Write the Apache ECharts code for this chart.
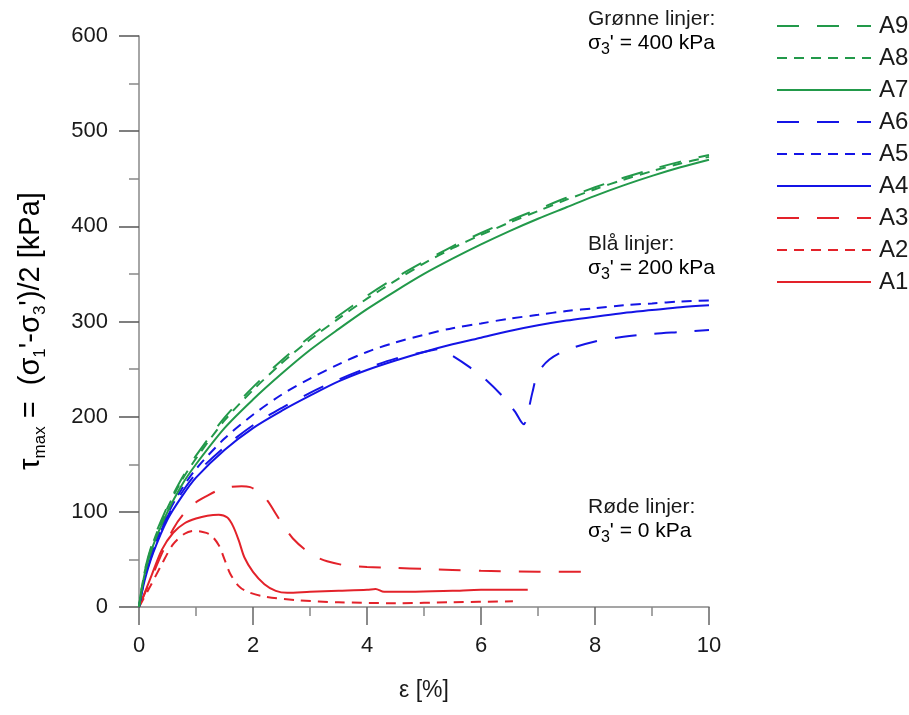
<!DOCTYPE html>
<html>
<head>
<meta charset="utf-8">
<script src="https://cdn.jsdelivr.net/npm/echarts@6/dist/echarts.min.js"></script>
<style>
html,body{margin:0;padding:0;background:#fff;}
#chart{width:909px;height:715px;}
</style>
</head>
<body>
<div id="chart"></div>
<script>
// ---- Data (strain ε [%], stress τmax [kPa]) ----
const strainGrid = [0, 0.1, 0.25, 0.5, 0.75, 1, 1.5, 2, 2.5, 3, 3.5, 4, 4.5, 5, 5.5, 6, 6.5, 7, 7.5, 8, 8.5, 9, 9.5, 10];
const a7Tau = [0, 35, 65, 100, 128, 150, 188, 218, 245, 270, 292, 313, 332, 350, 366, 381, 395, 408, 420, 432, 443, 453, 462, 470];
const a8Tau = [0, 37, 68, 104, 133, 156, 196, 228, 256, 281, 303, 324, 343, 361, 377, 391, 404, 416, 428, 439, 449, 458, 466, 473];
const a9Tau = [0, 38, 70, 106, 135, 159, 199, 231, 259, 284, 306, 327, 346, 363, 379, 393, 406, 418, 430, 441, 451, 460, 468, 475];
const a4Tau = [0, 28, 57, 92, 116, 136, 165, 188, 206, 222, 237, 249, 259, 268, 276, 283, 290, 296, 301, 305, 309, 312, 315, 317];
const a5Tau = [0, 31, 61, 97, 124, 145, 177, 202, 223, 240, 255, 268, 278, 286, 293, 298, 303, 307, 311, 314, 317, 319, 321, 322];
const a6Strain = [0, 0.1, 0.25, 0.5, 0.75, 1, 1.5, 2, 2.5, 3, 3.5, 4, 4.5, 5, 5.28, 5.5, 5.8, 6.1, 6.4, 6.6, 6.75, 6.8, 6.9, 7.0, 7.2, 7.5, 8.0, 8.5, 9, 9.5, 10];
const a6Tau = [0, 30, 59, 95, 120, 140, 168, 191, 209, 225, 239, 251, 261, 268, 271, 264, 252, 238, 220, 205, 192, 198, 225, 246, 260, 270, 279, 284, 287, 289, 291];
const a1Strain = [0, 0.2, 0.4, 0.6, 0.8, 1.0, 1.2, 1.4, 1.55, 1.65, 1.75, 1.85, 2.0, 2.2, 2.4, 2.6, 3.0, 3.5, 4.0, 4.15, 4.3, 4.75, 5.5, 6.0, 6.5, 6.82];
const a1Tau = [0, 30, 60, 78, 88, 93, 96, 97, 94, 85, 70, 52, 37, 24, 17, 15, 16, 17, 18, 19, 16, 16, 17, 18, 18, 18];
const a2Strain = [0, 0.2, 0.4, 0.6, 0.8, 0.95, 1.1, 1.25, 1.4, 1.5, 1.6, 1.75, 1.9, 2.2, 2.8, 3.5, 4.5, 5.5, 6.56];
const a2Tau = [0, 22, 45, 66, 77, 80, 79, 76, 65, 50, 35, 22, 16, 11, 7, 5, 4, 5, 6];
const a3Strain = [0, 0.2, 0.4, 0.6, 0.8, 1.0, 1.2, 1.4, 1.6, 1.8, 1.95, 2.1, 2.25, 2.4, 2.55, 2.7, 2.9, 3.1, 3.3, 3.6, 4.0, 4.5, 5, 5.5, 6, 7, 8];
const a3Tau = [0, 28, 56, 82, 99, 110, 117, 123, 126, 127, 126, 121, 112, 98, 84, 72, 61, 53, 48, 44, 42, 41, 40, 39, 38, 37, 37];
const legendNames = ['A9', 'A8', 'A7', 'A6', 'A5', 'A4', 'A3', 'A2', 'A1'];
const xTicks = {min: 0, max: 10, interval: 2};
const yTicks = {min: 0, max: 600, interval: 100};

// ---- Styling ----
const FONT = '"Liberation Sans", Arial, sans-serif';
const TXT = '#1a1a1a';
const GREEN = '#22994a', BLUE = '#1414e6', RED = '#e3222a';
const SHORT = [10, 7], LONG = [22, 18];
const zip = (xs, ys) => xs.map((x, i) => [x, ys[i]]);

function mk(name, xs, ys, color, type) {
  return {
    name: name, type: 'line', data: zip(xs, ys), symbol: 'none', showSymbol: false, smooth: 0.3,
    lineStyle: {color: color, width: 2, type: type}, itemStyle: {color: color},
    emphasis: {disabled: true}, animation: false
  };
}

const series = [
  mk('A1', a1Strain, a1Tau, RED, 'solid'),
  mk('A2', a2Strain, a2Tau, RED, SHORT),
  mk('A3', a3Strain, a3Tau, RED, LONG),
  mk('A4', strainGrid, a4Tau, BLUE, 'solid'),
  mk('A5', strainGrid, a5Tau, BLUE, SHORT),
  mk('A6', a6Strain, a6Tau, BLUE, LONG),
  mk('A7', strainGrid, a7Tau, GREEN, 'solid'),
  mk('A8', strainGrid, a8Tau, GREEN, SHORT),
  mk('A9', strainGrid, a9Tau, GREEN, LONG)
];

const nameRich = {
  a: {fontSize: 29, fontFamily: FONT, color: TXT, lineHeight: 36, verticalAlign: 'middle'},
  s: {fontSize: 17, fontFamily: FONT, color: TXT, lineHeight: 16, verticalAlign: 'bottom'}
};
const noteRich = {
  a: {fontSize: 21, fontFamily: FONT, color: TXT, lineHeight: 28, verticalAlign: 'middle'},
  s: {fontSize: 16, fontFamily: FONT, color: TXT, lineHeight: 14, verticalAlign: 'bottom'}
};

function note(x, y, title, value) {
  return [
    {type: 'text', left: x, top: y, style: {text: title, font: '21px ' + FONT, fill: TXT}, silent: true},
    {type: 'text', left: x, top: y + 24, style: {text: '{a|σ}{s|3}{a|\' = ' + value + ' kPa}', rich: noteRich}, silent: true}
  ];
}

const chart = echarts.init(document.getElementById('chart'), null, {renderer: 'canvas'});
chart.setOption({
  backgroundColor: '#fff',
  animation: false,
  grid: {left: 139, right: 200, top: 36, bottom: 108, containLabel: false},
  legend: {
    orient: 'vertical', left: 776, top: 14, padding: 0, itemWidth: 94, itemHeight: 14, itemGap: 8,
    data: legendNames, selectedMode: false,
    textStyle: {fontSize: 24, fontFamily: FONT, color: TXT, padding: [0, 0, 0, 3]},
    itemStyle: {opacity: 0}
  },
  xAxis: {
    type: 'value', min: xTicks.min, max: xTicks.max, interval: xTicks.interval,
    name: 'ε [%]', nameLocation: 'middle', nameGap: 72,
    nameTextStyle: {fontSize: 23, fontFamily: FONT, color: TXT},
    axisLine: {show: true, onZero: false, lineStyle: {color: '#888', width: 1.5}},
    axisTick: {show: true, length: 18, lineStyle: {color: '#666', width: 1.5}},
    minorTick: {show: true, splitNumber: 2, length: 9, lineStyle: {color: '#888', width: 1.5}},
    axisLabel: {fontSize: 22, fontFamily: FONT, color: TXT, margin: 28},
    splitLine: {show: false}
  },
  yAxis: {
    type: 'value', min: yTicks.min, max: yTicks.max, interval: yTicks.interval,
    axisLine: {show: true, lineStyle: {color: '#888', width: 1.5}},
    axisTick: {show: true, length: 20, lineStyle: {color: '#555', width: 1.5}},
    minorTick: {show: true, splitNumber: 2, length: 10, lineStyle: {color: '#888', width: 1.5}},
    axisLabel: {fontSize: 22, fontFamily: FONT, color: TXT, margin: 31},
    splitLine: {show: false}
  },
  graphic: [].concat(
    [{
      type: 'text', x: 31, y: 331, rotation: Math.PI / 2, silent: true,
      style: {
        text: '{a|τ}{s|max}{a| =  (σ}{s|1}{a|\'-σ}{s|3}{a|\')/2 [kPa]}',
        rich: nameRich, align: 'center', verticalAlign: 'middle'
      }
    }],
    note(588, 9, 'Grønne linjer:', '400'),
    note(588, 234, 'Blå linjer:', '200'),
    note(588, 497, 'Røde linjer:', '0')
  ),
  series: series
});
</script>
</body>
</html>
